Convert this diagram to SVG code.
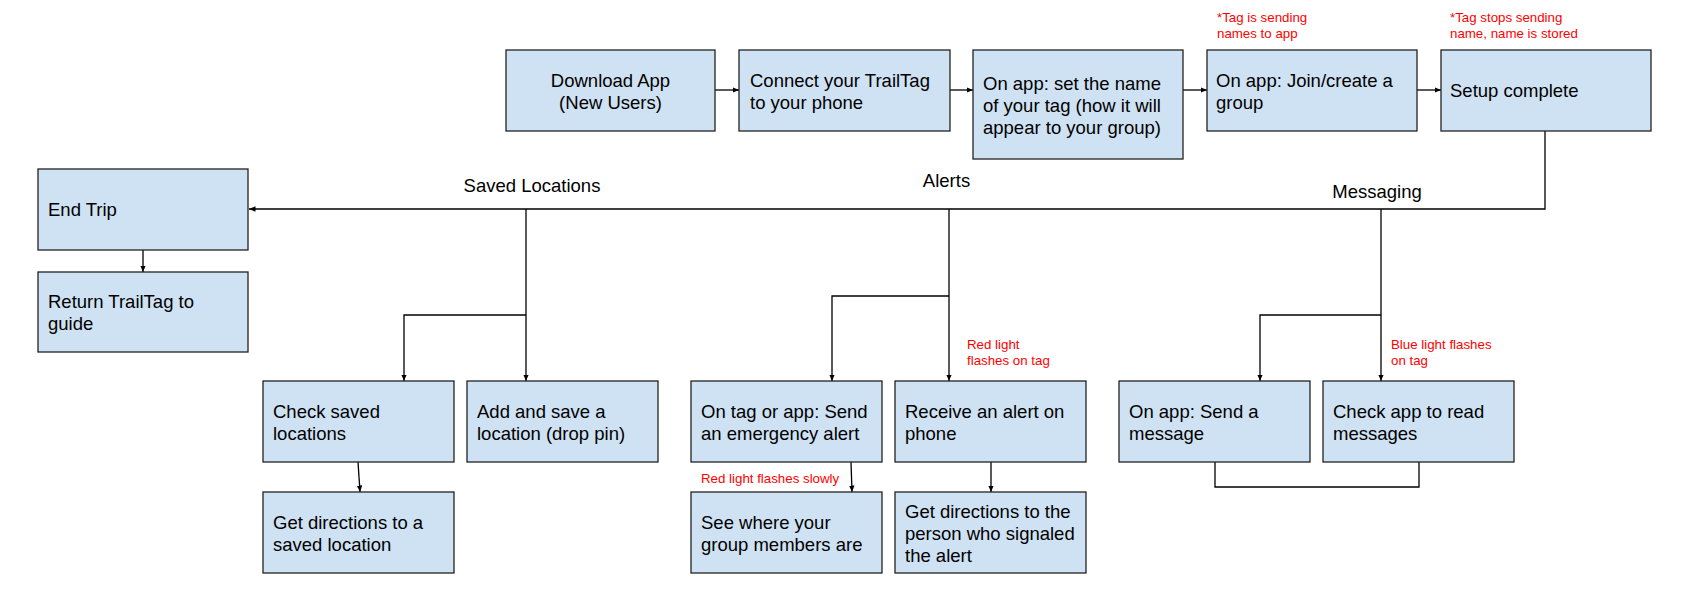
<svg xmlns="http://www.w3.org/2000/svg" width="1689" height="592" viewBox="0 0 1689 592">
<style>
.box{fill:#cfe2f3;stroke:#222;stroke-width:1.3}
.t{font-family:"Liberation Sans",Arial,sans-serif;font-size:18.5px;fill:#000}
.c{text-anchor:middle}
.r{font-family:"Liberation Sans",Arial,sans-serif;font-size:13.3px;fill:#ff0000}
.ln{fill:none;stroke:#000;stroke-width:1.3}
</style>
<defs>
<marker id="ah" markerUnits="userSpaceOnUse" markerWidth="7" markerHeight="6" refX="6.5" refY="2.75" orient="auto">
<path d="M0,0 L6.5,2.75 L0,5.5 z" fill="#000"/>
</marker>
</defs>
<rect width="1689" height="592" fill="#fff"/>
<g id="connectors">
<path class="ln" d="M715,90 H739" marker-end="url(#ah)"/>
<path class="ln" d="M950,90 H973" marker-end="url(#ah)"/>
<path class="ln" d="M1183,90 H1207" marker-end="url(#ah)"/>
<path class="ln" d="M1417,90 H1441" marker-end="url(#ah)"/>
<path class="ln" d="M1545,131 V209 H249" marker-end="url(#ah)"/>
<path class="ln" d="M143,250 V272" marker-end="url(#ah)"/>
<path class="ln" d="M526,209 V381" marker-end="url(#ah)"/>
<path class="ln" d="M526,315 H404 V381" marker-end="url(#ah)"/>
<path class="ln" d="M358,462 L360,492" marker-end="url(#ah)"/>
<path class="ln" d="M949,209 V381" marker-end="url(#ah)"/>
<path class="ln" d="M949,296 H832 V381" marker-end="url(#ah)"/>
<path class="ln" d="M851,462 L852,492" marker-end="url(#ah)"/>
<path class="ln" d="M991,462 V492" marker-end="url(#ah)"/>
<path class="ln" d="M1381,209 V381" marker-end="url(#ah)"/>
<path class="ln" d="M1381,315 H1260 V381" marker-end="url(#ah)"/>
<path class="ln" d="M1215,462 V487 H1419 V462"/>
</g>
<g id="labels">
<text class="t c" x="532" y="192">Saved Locations</text>
<text class="t c" x="946.5" y="187">Alerts</text>
<text class="t c" x="1377" y="198">Messaging</text>
<text class="r" x="1217" y="22">*Tag is sending<tspan x="1217" y="38">names to app</tspan></text>
<text class="r" x="1450" y="22">*Tag stops sending<tspan x="1450" y="38">name, name is stored</tspan></text>
<text class="r" x="967" y="349">Red light<tspan x="967" y="365">flashes on tag</tspan></text>
<text class="r" x="1391" y="349">Blue light flashes<tspan x="1391" y="365">on tag</tspan></text>
<text class="r" x="701" y="483">Red light flashes slowly</text>
</g>
<g id="download">
<rect class="box" x="506" y="50" width="209" height="81"/>
<text class="t c" x="610.5" y="87">Download App<tspan x="610.5" y="109">(New Users)</tspan></text>
</g>
<g id="connect">
<rect class="box" x="739" y="50" width="211" height="81"/>
<text class="t" x="750" y="87">Connect your TrailTag<tspan x="750" y="109">to your phone</tspan></text>
</g>
<g id="setname">
<rect class="box" x="973" y="50" width="210" height="109"/>
<text class="t" x="983" y="90">On app: set the name<tspan x="983" y="112">of your tag (how it will</tspan><tspan x="983" y="134">appear to your group)</tspan></text>
</g>
<g id="join">
<rect class="box" x="1207" y="50" width="210" height="81"/>
<text class="t" x="1216" y="87">On app: Join/create a<tspan x="1216" y="109">group</tspan></text>
</g>
<g id="setup">
<rect class="box" x="1441" y="50" width="210" height="81"/>
<text class="t" x="1450" y="97">Setup complete</text>
</g>
<g id="endtrip">
<rect class="box" x="38" y="169" width="210" height="81"/>
<text class="t" x="48" y="216">End Trip</text>
</g>
<g id="return">
<rect class="box" x="38" y="272" width="210" height="80"/>
<text class="t" x="48" y="308">Return TrailTag to<tspan x="48" y="330">guide</tspan></text>
</g>
<g id="checksaved">
<rect class="box" x="263" y="381" width="191" height="81"/>
<text class="t" x="273" y="418">Check saved<tspan x="273" y="440">locations</tspan></text>
</g>
<g id="addsave">
<rect class="box" x="467" y="381" width="191" height="81"/>
<text class="t" x="477" y="418">Add and save a<tspan x="477" y="440">location (drop pin)</tspan></text>
</g>
<g id="getdirsaved">
<rect class="box" x="263" y="492" width="191" height="81"/>
<text class="t" x="273" y="529">Get directions to a<tspan x="273" y="551">saved location</tspan></text>
</g>
<g id="sendalert">
<rect class="box" x="691" y="381" width="191" height="81"/>
<text class="t" x="701" y="418">On tag or app: Send<tspan x="701" y="440">an emergency alert</tspan></text>
</g>
<g id="receivealert">
<rect class="box" x="895" y="381" width="191" height="81"/>
<text class="t" x="905" y="418">Receive an alert on<tspan x="905" y="440">phone</tspan></text>
</g>
<g id="seewhere">
<rect class="box" x="691" y="492" width="191" height="81"/>
<text class="t" x="701" y="529">See where your<tspan x="701" y="551">group members are</tspan></text>
</g>
<g id="getdirperson">
<rect class="box" x="895" y="492" width="191" height="81"/>
<text class="t" x="905" y="518">Get directions to the<tspan x="905" y="540">person who signaled</tspan><tspan x="905" y="562">the alert</tspan></text>
</g>
<g id="sendmsg">
<rect class="box" x="1119" y="381" width="191" height="81"/>
<text class="t" x="1129" y="418">On app: Send a<tspan x="1129" y="440">message</tspan></text>
</g>
<g id="readmsg">
<rect class="box" x="1323" y="381" width="191" height="81"/>
<text class="t" x="1333" y="418">Check app to read<tspan x="1333" y="440">messages</tspan></text>
</g>
</svg>
